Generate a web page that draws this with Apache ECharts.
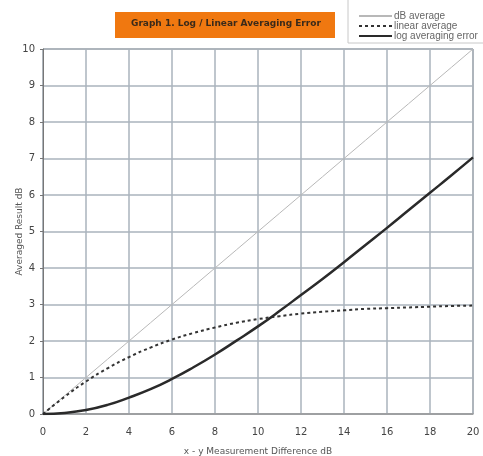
<!DOCTYPE html>
<html><head><meta charset="utf-8">
<script src="https://cdn.jsdelivr.net/npm/echarts@6/dist/echarts.min.js"></script>
<style>html,body{margin:0;padding:0;background:#fff}#c{width:483px;height:456px}</style>
</head><body><div id="c"></div>
<script>
const xValues = [0,1,2,3,4,5,6,7,8,9,10,11,12,13,14,15,16,17,18,19,20];
const dbAverage = [0,0.5,1,1.5,2,2.5,3,3.5,4,4.5,5,5.5,6,6.5,7,7.5,8,8.5,9,9.5,10];
const linearAverage = [0,0.47,0.89,1.25,1.56,1.82,2.04,2.22,2.37,2.50,2.60,2.68,2.75,2.80,2.84,2.88,2.90,2.92,2.94,2.96,2.97];
const logAvgError = [0,0.03,0.11,0.25,0.45,0.68,0.96,1.28,1.63,2.01,2.40,2.82,3.26,3.70,4.16,4.63,5.10,5.58,6.06,6.54,7.03];
const seriesNames = ['dB average','linear average','log averaging error'];
const titleText = 'Graph 1. Log / Linear Averaging Error';

const pair = arr => xValues.map((x,i)=>[x,arr[i]]);
const chart = echarts.init(document.getElementById('c'));
const font = 'Verdana, "DejaVu Sans", sans-serif';
const lfont = '"Liberation Sans", Arial, sans-serif';
chart.setOption({
  animation:false,
  backgroundColor:'#fff',
  graphic:[
    {type:'rect',left:115,top:12,shape:{width:220,height:26},style:{fill:'#f07810'},z:1},
    {type:'text',top:19,left:131,style:{text:titleText,fill:'#3a2a1a',font:'bold 9px '+font},z:2},
    {type:'polyline',shape:{points:[[348,0],[348,43],[483,43]]},style:{stroke:'#c8c8c8',lineWidth:1,fill:null}}
  ],
  legend:{
    orient:'vertical',left:353,top:6,itemGap:0,itemWidth:33,itemHeight:10,
    itemStyle:{opacity:0},
    textStyle:{fontSize:10,color:'#666',fontFamily:lfont,padding:[0,0,0,-3]},
    data:seriesNames
  },
  grid:{left:43,right:10,top:49,bottom:42,show:true,borderColor:'#777',borderWidth:1,
    containLabel:false,outerBoundsMode:'none'},
  xAxis:{type:'value',min:0,max:20,interval:2,
    name:'x - y Measurement Difference dB',nameLocation:'middle',nameGap:33,nameMoveOverlap:false,
    nameTextStyle:{fontSize:9,color:'#555',fontFamily:font},
    axisLine:{lineStyle:{color:'#999',width:1.5}},axisTick:{show:false},
    axisLabel:{fontSize:10,color:'#444',fontFamily:font,margin:13},
    splitLine:{lineStyle:{color:'#aab3bc',width:1.5}}},
  yAxis:{type:'value',min:0,max:10,interval:1,
    name:'Averaged Result dB',nameLocation:'middle',nameGap:19,nameMoveOverlap:false,
    nameTextStyle:{fontSize:9,color:'#555',fontFamily:font},
    axisLine:{show:true,lineStyle:{color:'#777',width:1}},axisTick:{show:true,length:3,lineStyle:{color:'#777'}},
    axisLabel:{fontSize:10,color:'#444',fontFamily:font,margin:8},
    splitLine:{lineStyle:{color:'#aab3bc',width:1.5}}},
  series:[
    {name:seriesNames[0],type:'line',data:pair(dbAverage),showSymbol:false,symbol:'none',
      lineStyle:{color:'#b8b8b8',width:1},itemStyle:{color:'#b8b8b8'},z:3},
    {name:seriesNames[1],type:'line',data:pair(linearAverage),showSymbol:false,symbol:'none',smooth:true,
      lineStyle:{color:'#333',width:2,type:[3,3]},itemStyle:{color:'#333'},z:4},
    {name:seriesNames[2],type:'line',data:pair(logAvgError),showSymbol:false,symbol:'none',smooth:true,
      lineStyle:{color:'#2a2a2a',width:2.5},itemStyle:{color:'#555'},z:5}
  ]
});
</script></body></html>
